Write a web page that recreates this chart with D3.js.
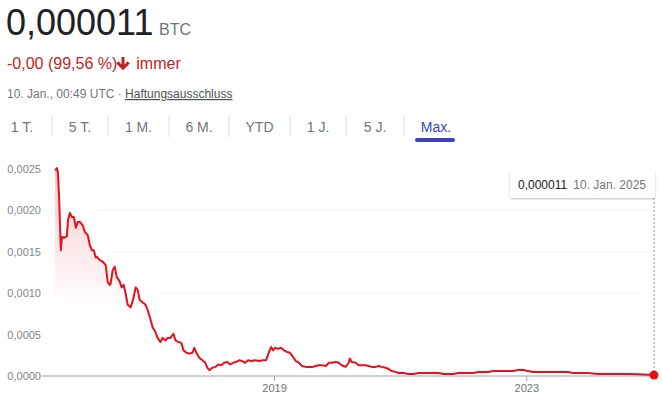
<!DOCTYPE html>
<html>
<head>
<meta charset="utf-8">
<script src="https://cdn.jsdelivr.net/npm/d3@7"></script>
<style>
    body { margin: 0; background: #fff; font-family: Arial, "Liberation Sans", sans-serif; }
    svg { display: block; }
</style>
</head>
<body>
<div id="chart_div"></div>
<script>
// values
const dates = [
    "2015-07-12", "2015-07-17", "2015-07-23", "2015-07-29", "2015-08-04", "2015-08-10", "2015-08-15", "2015-08-21",
    "2015-09-02", "2015-09-13", "2015-09-19", "2015-09-25", "2015-10-06", "2015-10-18", "2015-10-29", "2015-11-10",
    "2015-11-21", "2015-12-03", "2015-12-20", "2016-01-01", "2016-01-18", "2016-01-30", "2016-02-10", "2016-02-22",
    "2016-03-04", "2016-03-10", "2016-03-27", "2016-04-14", "2016-05-01", "2016-05-12", "2016-05-24", "2016-05-30",
    "2016-06-10", "2016-06-22", "2016-07-03", "2016-07-21", "2016-08-01", "2016-08-13", "2016-08-24", "2016-09-05",
    "2016-09-22", "2016-10-09", "2016-10-21", "2016-11-02", "2016-11-13", "2016-11-30", "2016-12-18", "2016-12-29",
    "2017-01-16", "2017-01-27", "2017-02-13", "2017-02-25", "2017-03-14", "2017-03-26", "2017-04-12", "2017-04-24",
    "2017-05-11", "2017-05-28", "2017-06-09", "2017-06-26", "2017-07-13", "2017-07-25", "2017-08-11", "2017-08-29",
    "2017-09-15", "2017-09-26", "2017-10-08", "2017-10-25", "2017-11-12", "2017-11-29", "2017-12-10", "2017-12-22",
    "2018-01-08", "2018-01-26", "2018-02-12", "2018-03-01", "2018-03-18", "2018-04-05", "2018-04-22", "2018-05-09",
    "2018-05-27", "2018-06-13", "2018-06-30", "2018-07-18", "2018-08-04", "2018-08-21", "2018-09-13", "2018-10-06",
    "2018-10-30", "2018-11-16", "2018-12-03", "2018-12-15", "2018-12-26", "2019-01-07", "2019-01-24", "2019-02-10",
    "2019-02-28", "2019-03-17", "2019-04-03", "2019-04-21", "2019-05-08", "2019-05-25", "2019-06-12", "2019-07-05",
    "2019-07-22", "2019-08-14", "2019-08-31", "2019-09-18", "2019-10-05", "2019-10-28", "2019-11-14", "2019-12-02",
    "2019-12-25", "2020-01-11", "2020-01-28", "2020-02-20", "2020-03-09", "2020-03-15", "2020-03-26", "2020-04-18",
    "2020-05-05", "2020-05-23", "2020-06-15", "2020-07-02", "2020-07-19", "2020-08-12", "2020-08-29", "2020-09-15",
    "2020-10-08", "2020-10-26", "2020-11-12", "2020-12-05", "2020-12-22", "2021-01-20", "2021-02-18", "2021-03-19",
    "2021-04-17", "2021-05-16", "2021-06-13", "2021-07-12", "2021-08-10", "2021-09-08", "2021-10-07", "2021-11-05",
    "2021-12-03", "2022-01-01", "2022-01-30", "2022-02-28", "2022-03-29", "2022-04-27", "2022-05-26", "2022-06-23",
    "2022-07-22", "2022-08-20", "2022-09-18", "2022-10-17", "2022-11-15", "2022-12-14", "2023-01-11", "2023-02-09",
    "2023-03-10", "2023-04-08", "2023-05-07", "2023-06-05", "2023-07-03", "2023-08-01", "2023-08-30", "2023-09-28",
    "2023-10-27", "2023-11-25", "2023-12-24", "2024-02-19", "2024-04-17", "2024-06-14", "2024-08-10", "2024-10-07",
    "2025-01-10"
];

const prices = [
    0.00250, 0.00249, 0.00251, 0.00246, 0.00219, 0.00182, 0.00152, 0.00168,
    0.00167, 0.00168, 0.00169, 0.00188, 0.00197, 0.00192, 0.00192, 0.00179,
    0.00186, 0.00186, 0.00182, 0.00174, 0.00170, 0.00158, 0.00152, 0.00152,
    0.00143, 0.00144, 0.00140, 0.00138, 0.00134, 0.00114, 0.00110, 0.00112,
    0.00128, 0.00132, 0.00120, 0.00114, 0.00107, 0.00110, 0.00100, 0.00086,
    0.00083, 0.00094, 0.00107, 0.00104, 0.00092, 0.00089, 0.00086, 0.00080,
    0.00068, 0.00059, 0.00053, 0.00046, 0.00041, 0.00046, 0.00043, 0.00046,
    0.00046, 0.00051, 0.00043, 0.00041, 0.00040, 0.00031, 0.00028, 0.00027,
    0.00028, 0.00034, 0.00028, 0.00022, 0.00019, 0.00016, 0.00010, 0.00007,
    0.00010, 0.00011, 0.00014, 0.00013, 0.00016, 0.00017, 0.00014, 0.00016,
    0.00017, 0.00019, 0.00018, 0.00016, 0.00019, 0.00018, 0.00019, 0.00018,
    0.00019, 0.00019, 0.00029, 0.00035, 0.00031, 0.00034, 0.00033, 0.00034,
    0.00031, 0.00029, 0.00028, 0.00023, 0.00018, 0.00016, 0.00012, 0.00011,
    0.00011, 0.00011, 0.00012, 0.00013, 0.00013, 0.00012, 0.00016, 0.00016,
    0.00017, 0.00016, 0.00013, 0.00011, 0.00016, 0.00021, 0.00017, 0.00016,
    0.00013, 0.00013, 0.00013, 0.00012, 0.00011, 0.00011, 0.00012, 0.00011,
    0.00010, 0.000085, 0.00006, 0.00005, 0.000036, 0.000036, 0.000024, 0.000024,
    0.000036, 0.000036, 0.000036, 0.000036, 0.000036, 0.000024, 0.000024, 0.000024,
    0.000036, 0.000036, 0.000036, 0.000036, 0.000048, 0.000048, 0.000048, 0.00006,
    0.00006, 0.00006, 0.00006, 0.00006, 0.000072, 0.000072, 0.00006, 0.000048,
    0.000048, 0.000048, 0.000048, 0.000048, 0.000048, 0.000048, 0.000048, 0.000036,
    0.000036, 0.000036, 0.000036, 0.000024, 0.000024, 0.000024, 0.000024, 0.000020,
    0.000011
];

const yTicks = [0, 0.0005, 0.0010, 0.0015, 0.0020, 0.0025];
const gridTicks = [0.0010, 0.0015, 0.0020];
const xTicks = ["2019-01-01", "2023-01-01"];
const tabLabels = ["1 T.", "5 T.", "1 M.", "6 M.", "YTD", "1 J.", "5 J.", "Max."];

const priceText = "0,000011";
const currency = "BTC";
const changeText = "-0,00 (99,56 %)";
const changeWord = "immer";
const timeText = "10. Jan., 00:49 UTC · ";
const linkText = "Haftungsausschluss";
const tipDate = "10. Jan. 2025";

const width = 662;
const height = 399;
const grey = "#70757a";
const red = "#e8101c";

const parse = d3.timeParse("%Y-%m-%d");
const data = dates.map((d, i) => ({ date: parse(d), value: prices[i] }));

const de = d3.formatLocale({ decimal: ",", thousands: ".", grouping: [3], currency: ["", " €"] });

const svg = d3.select("#chart_div")
    .append("svg")
    .attr("width", width)
    .attr("height", height)
    .style("font-family", "Arial, 'Liberation Sans', sans-serif");

// ---- header ----
const head = svg.append("g");

head.append("text")
    .attr("x", 6)
    .attr("y", 35)
    .attr("font-size", 36)
    .attr("fill", "#202124")
    .text(priceText);

head.append("text")
    .attr("x", 159)
    .attr("y", 35)
    .attr("font-size", 16)
    .attr("fill", grey)
    .text(currency);

const change = head.append("text")
    .attr("x", 7)
    .attr("y", 69)
    .attr("font-size", 16)
    .attr("fill", "#c5221f");
change.append("tspan").text(changeText);
change.append("tspan").attr("dx", 19).text(changeWord);

// down arrow icon
head.append("path")
    .attr("d", "M121.5,57 h3 v7.5 l3.2,-3.2 l2.1,2.1 l-6.8,6.8 l-6.8,-6.8 l2.1,-2.1 l3.2,3.2 z")
    .attr("fill", "#c5221f");

const when = head.append("text")
    .attr("x", 7)
    .attr("y", 98)
    .attr("font-size", 12)
    .attr("fill", grey);
when.append("tspan").text(timeText);
when.append("tspan")
    .attr("fill", "#4d5156")
    .attr("text-decoration", "underline")
    .text(linkText);

// ---- range tabs ----
const tabCenters = [22, 80, 138.5, 199, 259.5, 318, 375, 436];
const tabSeps = [52, 108, 169, 229, 290, 346, 404];

const tabs = svg.append("g");

tabs.selectAll("line")
    .data(tabSeps)
    .enter()
    .append("line")
    .attr("x1", d => d)
    .attr("x2", d => d)
    .attr("y1", 116)
    .attr("y2", 137)
    .attr("stroke", "#dadce0");

tabs.selectAll("text")
    .data(tabLabels)
    .enter()
    .append("text")
    .attr("x", (d, i) => tabCenters[i])
    .attr("y", 132)
    .attr("text-anchor", "middle")
    .attr("font-size", 14)
    .attr("fill", (d, i) => i === tabLabels.length - 1 ? "#4042c0" : grey)
    .text(d => d);

tabs.append("rect")
    .attr("x", 415)
    .attr("y", 138)
    .attr("width", 40)
    .attr("height", 4)
    .attr("rx", 2)
    .attr("fill", "#3f3fc2");

// ---- chart ----
const x = d3.scaleTime()
    .domain(d3.extent(data, d => d.date))
    .range([55, 654]);

const y = d3.scaleLinear()
    .domain([0, 0.0025])
    .range([376, 169]);

const defs = svg.append("defs");
const grad = defs.append("linearGradient")
    .attr("id", "fade")
    .attr("gradientUnits", "userSpaceOnUse")
    .attr("x1", 0).attr("x2", 0)
    .attr("y1", y(0.0025))
    .attr("y2", y(0.0008));
grad.append("stop").attr("offset", 0).attr("stop-color", "#e8101c").attr("stop-opacity", 0.22);
grad.append("stop").attr("offset", 1).attr("stop-color", "#e8101c").attr("stop-opacity", 0);

// grid
svg.append("g")
    .selectAll("line")
    .data(gridTicks)
    .enter()
    .append("line")
    .attr("x1", d => d === 0.0010 ? 160 : (d === 0.0015 ? 110 : 97))
    .attr("x2", d => d === 0.0010 ? 640 : 653)
    .attr("y1", d => y(d))
    .attr("y2", d => y(d))
    .attr("stroke", "#f1f3f4");

// area under line
svg.append("path")
    .datum(data)
    .attr("fill", "url(#fade)")
    .attr("d", d3.area()
        .x(d => x(d.date))
        .y0(y(0))
        .y1(d => y(d.value)));

// baseline
svg.append("line")
    .attr("x1", 42)
    .attr("x2", 656)
    .attr("y1", y(0))
    .attr("y2", y(0))
    .attr("stroke", "#bdc1c6")
    .attr("stroke-width", 1.5);

const xAxis = svg.append("g")
    .attr("transform", `translate(0, ${y(0)})`)
    .call(d3.axisBottom(x)
        .tickValues(xTicks.map(parse))
        .tickFormat(d3.timeFormat("%Y"))
        .tickSize(5)
        .tickPadding(3));
xAxis.select(".domain").remove();
xAxis.selectAll("line").attr("stroke", "#9aa0a6");
xAxis.selectAll("text")
    .attr("fill", grey)
    .attr("font-size", 11)
    .attr("font-family", "Arial, 'Liberation Sans', sans-serif");

const yAxis = svg.append("g")
    .attr("transform", "translate(41, 0)")
    .call(d3.axisLeft(y)
        .tickValues(yTicks)
        .tickFormat(de.format(".4f"))
        .tickSize(0)
        .tickPadding(0));
yAxis.select(".domain").remove();
yAxis.selectAll("text")
    .attr("fill", "#80868b")
    .attr("font-size", 11)
    .attr("font-family", "Arial, 'Liberation Sans', sans-serif");

// price line
svg.append("path")
    .datum(data)
    .attr("fill", "none")
    .attr("stroke", red)
    .attr("stroke-width", 2)
    .attr("stroke-linejoin", "round")
    .attr("d", d3.line()
        .x(d => x(d.date))
        .y(d => y(d.value)));

// tooltip marker
const last = data[data.length - 1];

svg.append("line")
    .attr("x1", x(last.date))
    .attr("x2", x(last.date))
    .attr("y1", 198)
    .attr("y2", y(last.value))
    .attr("stroke", "#9aa0a6")
    .attr("stroke-dasharray", "2,2");

svg.append("circle")
    .attr("cx", x(last.date))
    .attr("cy", y(last.value))
    .attr("r", 4.5)
    .attr("fill", red);

defs.append("filter")
    .attr("id", "shadow")
    .attr("x", "-10%").attr("y", "-20%")
    .attr("width", "120%").attr("height", "160%")
    .append("feDropShadow")
    .attr("dx", 0).attr("dy", 1)
    .attr("stdDeviation", 1.2)
    .attr("flood-color", "#000")
    .attr("flood-opacity", 0.25);

svg.append("rect")
    .attr("x", 510)
    .attr("y", 171)
    .attr("width", 145)
    .attr("height", 27)
    .attr("rx", 2)
    .attr("fill", "#fff")
    .attr("filter", "url(#shadow)");

const tip = svg.append("text")
    .attr("x", 518)
    .attr("y", 189)
    .attr("font-size", 12);
tip.append("tspan").attr("fill", "#202124").text(de.format(".6f")(last.value));
tip.append("tspan").attr("dx", 7).attr("fill", grey).text(tipDate);
</script>
</body>
</html>
